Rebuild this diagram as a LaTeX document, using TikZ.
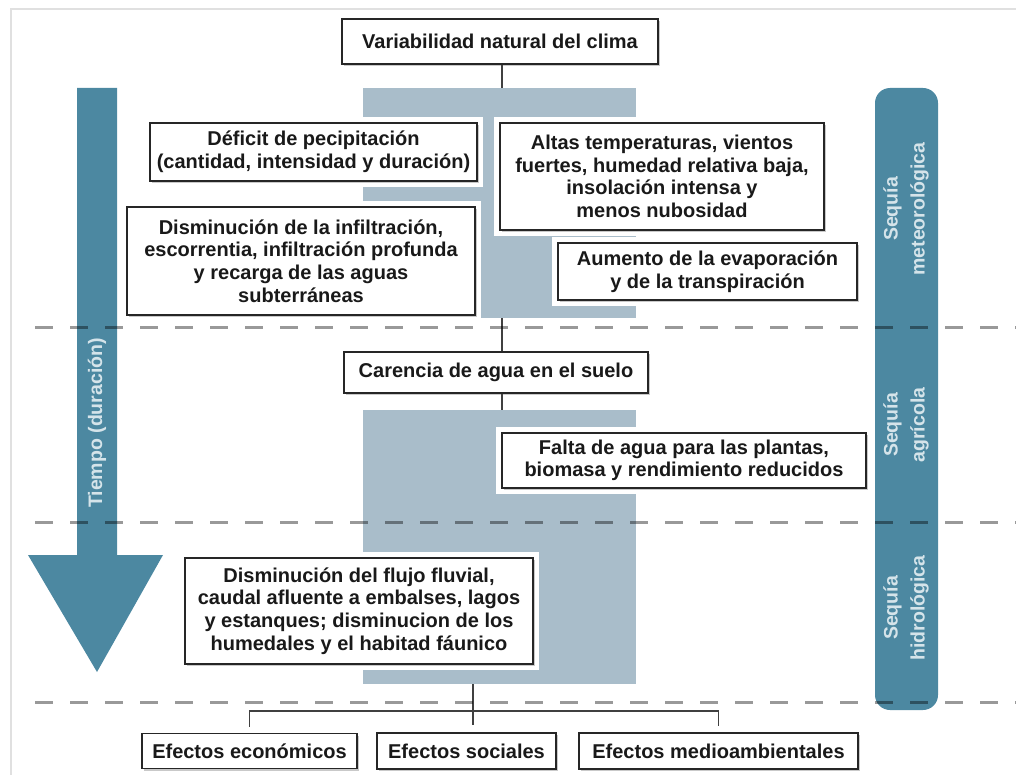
\documentclass[tikz,border=0pt]{standalone}
\usepackage{fontspec}
\setmainfont{Liberation Sans}
\usetikzlibrary{shadows,calc}
\definecolor{tealbar}{HTML}{4C88A1}
\definecolor{lightbar}{HTML}{A9BDCA}
\definecolor{txtlight}{HTML}{D5E4EA}
\begin{document}
\begin{tikzpicture}[x=1pt,y=-1pt,
  box/.style={draw=black!85, line width=1.6pt, fill=white, align=center, inner sep=0pt,
    font=\bfseries\fontsize{20}{22.6}\selectfont, text=black!90,
    preaction={draw=white, line width=12pt},
    drop shadow={shadow xshift=2pt, shadow yshift=-2pt, fill=black!35, opacity=0.6}},
  lightbox/.style={fill=lightbar, draw=none, inner sep=0pt},
  conn/.style={draw=black!75, line width=1.3pt},
  sep/.style={draw=black, draw opacity=0.4, line width=3pt, dash pattern=on 18pt off 17pt},
  barlabel/.style={text=txtlight, align=center, inner sep=0pt,
    font=\bfseries\fontsize{19.5}{27}\selectfont}
]
\useasboundingbox (0,0) rectangle (1016,775);
% frame
\draw[black!12, line width=1.5pt] (1016,9) -- (11,9) -- (11,775);

% light backgrounds
\node[lightbox, minimum width=273pt, minimum height=230pt] (lt1) at (499.5,203) {};
\node[lightbox, minimum width=273pt, minimum height=274pt] (lt2) at (499.5,547) {};

% time arrow
\fill[tealbar] (77,88) -- (117,88) -- (117,555) -- (163,555) -- (97,672) -- (28,555) -- (77,555) -- cycle;
\node[barlabel, rotate=90] (tiempo) at (97,423) {Tiempo (duración)};

% right bar
\fill[tealbar, rounded corners=15pt] (875,88) rectangle (938,710);
\node[barlabel, rotate=90] (s1) at (906,209) {Sequía\\meteorológica};
\node[barlabel, rotate=90] (s2) at (906,425) {Sequía\\agrícola};
\node[barlabel, rotate=90] (s3) at (906,608) {Sequía\\hidrológica};

% axes for connectors
\coordinate (ax1) at (502,0);
\coordinate (ax2) at (473,0);
\coordinate (b1) at (473,725);
\coordinate (hb) at (473,711);

% boxes
\node[box, minimum width=316pt, minimum height=45pt] (var) at (500,41.5) {Variabilidad natural del clima};
\node[box, minimum width=327pt, minimum height=58pt] (def) at (313.5,152) {Déficit de pecipitación\\(cantidad, intensidad y duración)};
\node[box, minimum width=324pt, minimum height=107pt] (alt) at (662,176.5) {Altas temperaturas, vientos\\fuertes, humedad relativa baja,\\insolación intensa y\\menos nubosidad};
\node[box, minimum width=348pt, minimum height=108pt] (dis) at (301,261) {Disminución de la infiltración,\\escorrentia, infiltración profunda\\y recarga de las aguas\\subterráneas};
\node[box, minimum width=299pt, minimum height=57pt] (aum) at (707.5,271.5) {Aumento de la evaporación\\y de la transpiración};
\node[box, minimum width=304pt, minimum height=41pt] (car) at (496,372.5) {Carencia de agua en el suelo};
\node[box, minimum width=364pt, minimum height=55pt] (fal) at (684,460.5) {Falta de agua para las plantas,\\biomasa y rendimiento reducidos};
\node[box, minimum width=348pt, minimum height=106pt] (flu) at (359,611) {Disminución del flujo fluvial,\\caudal afluente a embalses, lagos\\y estanques; disminucion de los\\humedales y el habitad fáunico};
\node[box, minimum width=215pt, minimum height=35pt] (eco) at (249.5,751) {Efectos económicos};
\node[box, minimum width=179pt, minimum height=36pt] (soc) at (466.5,751) {Efectos sociales};
\node[box, minimum width=279pt, minimum height=36pt] (med) at (718.5,751) {Efectos medioambientales};

% connectors
\draw[conn] (var.south -| ax1) -- (lt1.north -| ax1);
\draw[conn] (lt1.south -| ax1) -- (car.north -| ax1);
\draw[conn] (car.south -| ax1) -- (lt2.north -| ax1);
\draw[conn] (lt2.south -| ax2) -- (b1);
\draw[conn] ([yshift=6pt]eco.north) |- (hb) -| ([yshift=6pt]med.north);

% separators
\draw[sep] (35,327) -- (1016,327);
\draw[sep] (35,522) -- (1016,522);
\draw[sep] (35,702) -- (1016,702);
\end{tikzpicture}
\end{document}
